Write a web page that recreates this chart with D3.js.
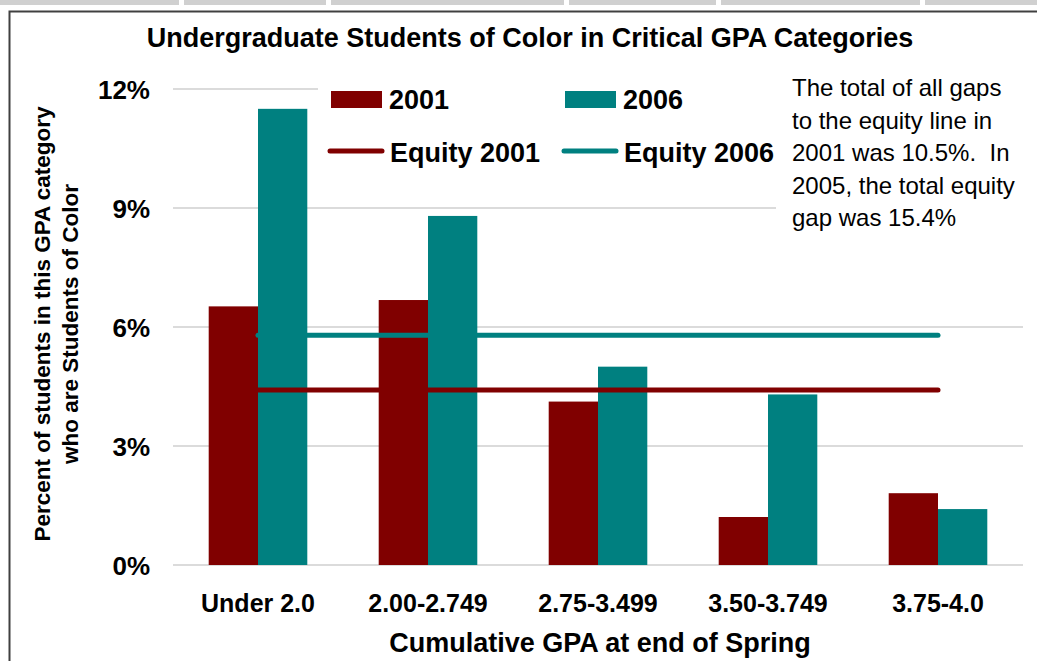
<!DOCTYPE html>
<html>
<head>
<meta charset="utf-8">
<script src="https://cdn.jsdelivr.net/npm/d3@7"></script>
<style>
  html, body { margin: 0; padding: 0; background: #fff; }
  svg { display: block; font-family: "Liberation Sans", Arial, sans-serif; }
</style>
</head>
<body>
<svg id="chart" width="1037" height="661"></svg>
<script>
// GPA bands and share of students of color in each band
const categories = ["Under 2.0", "2.00-2.749", "2.75-3.499", "3.50-3.749", "3.75-4.0"];
const series = ["2001", "2006"];
const values2001 = [6.52, 6.68, 4.12, 1.21, 1.81];
const values2006 = [11.5, 8.8, 5.0, 4.3, 1.41];
const equity2001 = 4.41;
const equity2006 = 5.79;
const yTicks = [0, 3, 6, 9, 12];
const noteLines = [
  "The total of all gaps",
  "to the equity line in",
  "2001 was 10.5%.  In",
  "2005, the total equity",
  "gap was 15.4%"
];
const headerCells = [0, 184, 331, 569, 721, 925, 1037];

const colors = { "2001": "#800000", "2006": "#008080" };

const svg = d3.select("#chart");

// spreadsheet header strip above the chart object
svg.selectAll("rect.hdr")
  .data(d3.pairs(headerCells))
  .join("rect")
  .attr("class", "hdr")
  .attr("x", d => d[0])
  .attr("y", 0)
  .attr("width", d => d[1] - d[0] - (d[1] === 1037 ? 0 : 5))
  .attr("height", 5)
  .attr("fill", "#d0d0d0");

// chart frame
svg.append("path")
  .attr("d", "M9.5,661 L9.5,11.5 L1037,11.5")
  .attr("fill", "none")
  .attr("stroke", "#404040")
  .attr("stroke-width", 2);

const plot = { left: 173, right: 1023, top: 89, bottom: 565 };

const x = d3.scaleBand().domain(categories).range([plot.left, plot.right]).paddingInner(0.42).paddingOuter(0.21);
const xs = d3.scaleBand().domain(series).range([0, x.bandwidth()]);
const y = d3.scaleLinear().domain([0, 12]).range([plot.bottom, plot.top]);

// gridlines
svg.append("g")
  .selectAll("line")
  .data(yTicks)
  .join("line")
  .attr("x1", plot.left).attr("x2", plot.right)
  .attr("y1", d => y(d)).attr("y2", d => y(d))
  .attr("stroke", "#cfcfcf")
  .attr("stroke-width", 1.3);

// opaque backgrounds of the legend and the note box
svg.append("rect").attr("x", 318).attr("y", 76).attr("width", 460).attr("height", 100).attr("fill", "#fff");
svg.append("rect").attr("x", 776).attr("y", 68).attr("width", 254).attr("height", 170).attr("fill", "#fff");

// y axis labels
const yAxis = d3.axisLeft(y).tickValues(yTicks).tickFormat(d => d + "%").tickSize(0).tickPadding(0);
const yg = svg.append("g").attr("transform", `translate(150,0)`).call(yAxis);
yg.select(".domain").remove();
yg.selectAll("text")
  .attr("font-family", "Liberation Sans, Arial, sans-serif")
  .attr("font-size", 26).attr("font-weight", "bold").attr("fill", "#000")
  .attr("dy", "0.36em");

// bars
const rows = categories.map((c, i) => ({ cat: c, vals: [
  { s: "2001", v: values2001[i] },
  { s: "2006", v: values2006[i] }
]}));
const groups = svg.append("g").selectAll("g")
  .data(rows).join("g")
  .attr("transform", d => `translate(${x(d.cat)},0)`);
groups.selectAll("rect")
  .data(d => d.vals).join("rect")
  .attr("x", d => xs(d.s))
  .attr("width", xs.bandwidth())
  .attr("y", d => y(d.v))
  .attr("height", d => y(0) - y(d.v))
  .attr("fill", d => colors[d.s]);

// equity lines from first to last category centre
const xc = c => x(c) + x.bandwidth() / 2;
[[equity2006, colors["2006"]], [equity2001, colors["2001"]]].forEach(([v, col]) => {
  svg.append("line")
    .attr("x1", xc(categories[0])).attr("x2", xc(categories[categories.length - 1]))
    .attr("y1", y(v)).attr("y2", y(v))
    .attr("stroke", col).attr("stroke-width", 5).attr("stroke-linecap", "round");
});

// x axis labels
const xAxis = d3.axisBottom(x).tickSize(0).tickPadding(0);
const xg = svg.append("g").attr("transform", `translate(0,612)`).call(xAxis);
xg.select(".domain").remove();
xg.selectAll("text")
  .attr("font-family", "Liberation Sans, Arial, sans-serif")
  .attr("font-size", 25).attr("font-weight", "bold").attr("fill", "#000")
  .attr("dy", 0);

// title
svg.append("text")
  .attr("x", 530).attr("y", 47)
  .attr("text-anchor", "middle")
  .attr("font-size", 27).attr("font-weight", "bold")
  .text("Undergraduate Students of Color in Critical GPA Categories");

// x axis title
svg.append("text")
  .attr("x", 600).attr("y", 652)
  .attr("text-anchor", "middle")
  .attr("font-size", 27).attr("font-weight", "bold")
  .text("Cumulative GPA at end of Spring");

// y axis title
const yt = svg.append("text")
  .attr("transform", "translate(50,324) rotate(-90)")
  .attr("text-anchor", "middle")
  .attr("font-size", 22.5).attr("font-weight", "bold");
yt.append("tspan").attr("x", 0).attr("y", 0).text("Percent of students in this GPA category");
yt.append("tspan").attr("x", 0).attr("y", 28).text("who are Students of Color");

// legend
const legend = [
  { label: "2001", type: "rect", col: colors["2001"], lx: 331, ly: 99.5 },
  { label: "2006", type: "rect", col: colors["2006"], lx: 565, ly: 99.5 },
  { label: "Equity 2001", type: "line", col: colors["2001"], lx: 330, ly: 151 },
  { label: "Equity 2006", type: "line", col: colors["2006"], lx: 564, ly: 151 }
];
const lg = svg.append("g").selectAll("g").data(legend).join("g")
  .attr("transform", d => `translate(${d.lx},${d.ly})`);
lg.filter(d => d.type === "rect").append("rect")
  .attr("x", 0).attr("y", -8.5).attr("width", 51).attr("height", 17)
  .attr("fill", d => d.col);
lg.filter(d => d.type === "line").append("line")
  .attr("x1", 0).attr("x2", 52).attr("y1", 0).attr("y2", 0)
  .attr("stroke", d => d.col).attr("stroke-width", 5).attr("stroke-linecap", "round");
lg.append("text")
  .attr("x", d => d.type === "rect" ? 58 : 60)
  .attr("y", d => d.type === "rect" ? 9 : 11)
  .attr("font-size", 27).attr("font-weight", "bold")
  .text(d => d.label);

// annotation
const note = svg.append("text").attr("font-size", 24).attr("fill", "#000");
noteLines.forEach((t, i) => {
  note.append("tspan").attr("x", 792).attr("y", 96 + i * 32.5).attr("xml:space", "preserve").text(t);
});
</script>
</body>
</html>
